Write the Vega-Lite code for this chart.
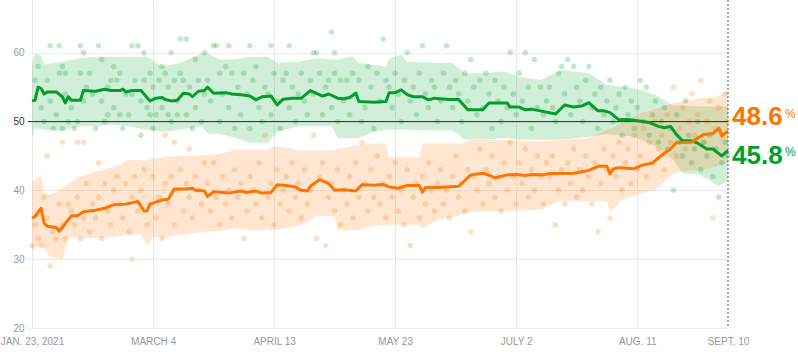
{
"$schema":"https://vega.github.io/schema/vega-lite/v6.json",
"width":700,"height":328,
"autosize":{"type":"none"},
"padding":{"left":28,"top":0,"right":70,"bottom":29},
"background":"white",
"config":{"view":{"stroke":null},"font":"Liberation Sans"},
"datasets":{
"lines":[
{"d":"2021-01-23","s":"a","v":53.0},{"d":"2021-01-24","s":"a","v":53.1},{"d":"2021-01-25","s":"a","v":55.0},{"d":"2021-01-26","s":"a","v":54.8},{"d":"2021-01-27","s":"a","v":54.0},{"d":"2021-01-28","s":"a","v":54.3},{"d":"2021-01-31","s":"a","v":54.3},{"d":"2021-02-02","s":"a","v":53.6},{"d":"2021-02-03","s":"a","v":52.7},{"d":"2021-02-04","s":"a","v":53.6},{"d":"2021-02-05","s":"a","v":53.1},{"d":"2021-02-08","s":"a","v":53.1},{"d":"2021-02-09","s":"a","v":54.5},{"d":"2021-02-13","s":"a","v":54.4},{"d":"2021-02-16","s":"a","v":54.7},{"d":"2021-02-18","s":"a","v":54.5},{"d":"2021-02-21","s":"a","v":54.5},{"d":"2021-02-22","s":"a","v":54.7},{"d":"2021-02-23","s":"a","v":54.3},{"d":"2021-02-25","s":"a","v":54.5},{"d":"2021-02-28","s":"a","v":54.5},{"d":"2021-03-03","s":"a","v":53.0},{"d":"2021-03-05","s":"a","v":53.4},{"d":"2021-03-07","s":"a","v":53.5},{"d":"2021-03-08","s":"a","v":53.2},{"d":"2021-03-10","s":"a","v":53.0},{"d":"2021-03-12","s":"a","v":53.1},{"d":"2021-03-14","s":"a","v":54.1},{"d":"2021-03-16","s":"a","v":54.0},{"d":"2021-03-17","s":"a","v":53.6},{"d":"2021-03-19","s":"a","v":54.4},{"d":"2021-03-21","s":"a","v":54.5},{"d":"2021-03-22","s":"a","v":55.0},{"d":"2021-03-24","s":"a","v":54.1},{"d":"2021-03-28","s":"a","v":54.2},{"d":"2021-03-30","s":"a","v":54.0},{"d":"2021-04-02","s":"a","v":53.9},{"d":"2021-04-05","s":"a","v":53.7},{"d":"2021-04-07","s":"a","v":53.15},{"d":"2021-04-09","s":"a","v":53.6},{"d":"2021-04-12","s":"a","v":53.7},{"d":"2021-04-14","s":"a","v":52.4},{"d":"2021-04-16","s":"a","v":53.25},{"d":"2021-04-19","s":"a","v":53.4},{"d":"2021-04-22","s":"a","v":53.4},{"d":"2021-04-25","s":"a","v":54.5},{"d":"2021-04-27","s":"a","v":54.1},{"d":"2021-04-29","s":"a","v":53.7},{"d":"2021-05-01","s":"a","v":54.0},{"d":"2021-05-04","s":"a","v":53.4},{"d":"2021-05-06","s":"a","v":53.3},{"d":"2021-05-08","s":"a","v":53.5},{"d":"2021-05-10","s":"a","v":54.1},{"d":"2021-05-11","s":"a","v":52.9},{"d":"2021-05-16","s":"a","v":52.8},{"d":"2021-05-20","s":"a","v":52.9},{"d":"2021-05-21","s":"a","v":54.2},{"d":"2021-05-23","s":"a","v":54.2},{"d":"2021-05-25","s":"a","v":54.6},{"d":"2021-05-27","s":"a","v":53.9},{"d":"2021-05-29","s":"a","v":53.6},{"d":"2021-06-01","s":"a","v":53.6},{"d":"2021-06-03","s":"a","v":53.15},{"d":"2021-06-05","s":"a","v":53.4},{"d":"2021-06-10","s":"a","v":53.2},{"d":"2021-06-13","s":"a","v":53.2},{"d":"2021-06-16","s":"a","v":51.7},{"d":"2021-06-21","s":"a","v":51.7},{"d":"2021-06-23","s":"a","v":52.7},{"d":"2021-06-29","s":"a","v":52.7},{"d":"2021-06-30","s":"a","v":52.1},{"d":"2021-07-03","s":"a","v":52.1},{"d":"2021-07-05","s":"a","v":51.7},{"d":"2021-07-07","s":"a","v":51.8},{"d":"2021-07-10","s":"a","v":51.55},{"d":"2021-07-15","s":"a","v":51.1},{"d":"2021-07-18","s":"a","v":52.4},{"d":"2021-07-20","s":"a","v":52.2},{"d":"2021-07-21","s":"a","v":52.1},{"d":"2021-07-24","s":"a","v":52.3},{"d":"2021-07-26","s":"a","v":52.75},{"d":"2021-07-29","s":"a","v":51.55},{"d":"2021-07-31","s":"a","v":51.55},{"d":"2021-08-02","s":"a","v":51.3},{"d":"2021-08-05","s":"a","v":50.25},{"d":"2021-08-08","s":"a","v":50.3},{"d":"2021-08-11","s":"a","v":50.1},{"d":"2021-08-15","s":"a","v":49.85},{"d":"2021-08-18","s":"a","v":49.3},{"d":"2021-08-20","s":"a","v":49.1},{"d":"2021-08-22","s":"a","v":49.3},{"d":"2021-08-24","s":"a","v":48.1},{"d":"2021-08-26","s":"a","v":47.2},{"d":"2021-08-29","s":"a","v":47.2},{"d":"2021-08-31","s":"a","v":46.85},{"d":"2021-09-03","s":"a","v":46.0},{"d":"2021-09-05","s":"a","v":46.0},{"d":"2021-09-08","s":"a","v":45.0},{"d":"2021-09-09","s":"a","v":45.4},{"d":"2021-09-10","s":"a","v":45.8},
{"d":"2021-01-23","s":"o","v":36.0},{"d":"2021-01-24","s":"o","v":36.2},{"d":"2021-01-26","s":"o","v":37.4},{"d":"2021-01-27","s":"o","v":35.25},{"d":"2021-01-28","s":"o","v":34.8},{"d":"2021-01-31","s":"o","v":34.6},{"d":"2021-02-01","s":"o","v":34.05},{"d":"2021-02-02","s":"o","v":34.6},{"d":"2021-02-05","s":"o","v":36.3},{"d":"2021-02-07","s":"o","v":36.3},{"d":"2021-02-09","s":"o","v":36.9},{"d":"2021-02-13","s":"o","v":37.1},{"d":"2021-02-16","s":"o","v":37.4},{"d":"2021-02-19","s":"o","v":37.9},{"d":"2021-02-23","s":"o","v":38.0},{"d":"2021-02-27","s":"o","v":38.4},{"d":"2021-03-01","s":"o","v":37.0},{"d":"2021-03-02","s":"o","v":37.0},{"d":"2021-03-03","s":"o","v":38.0},{"d":"2021-03-07","s":"o","v":38.6},{"d":"2021-03-09","s":"o","v":38.7},{"d":"2021-03-11","s":"o","v":40.2},{"d":"2021-03-15","s":"o","v":40.2},{"d":"2021-03-17","s":"o","v":40.3},{"d":"2021-03-18","s":"o","v":40.0},{"d":"2021-03-21","s":"o","v":39.9},{"d":"2021-03-22","s":"o","v":39.1},{"d":"2021-03-24","s":"o","v":39.8},{"d":"2021-03-27","s":"o","v":39.7},{"d":"2021-03-29","s":"o","v":39.6},{"d":"2021-04-02","s":"o","v":39.9},{"d":"2021-04-04","s":"o","v":39.7},{"d":"2021-04-07","s":"o","v":39.9},{"d":"2021-04-09","s":"o","v":39.6},{"d":"2021-04-12","s":"o","v":39.7},{"d":"2021-04-14","s":"o","v":40.8},{"d":"2021-04-17","s":"o","v":40.7},{"d":"2021-04-20","s":"o","v":40.5},{"d":"2021-04-22","s":"o","v":40.0},{"d":"2021-04-24","s":"o","v":39.9},{"d":"2021-04-25","s":"o","v":40.6},{"d":"2021-04-28","s":"o","v":41.55},{"d":"2021-05-01","s":"o","v":41.0},{"d":"2021-05-03","s":"o","v":40.0},{"d":"2021-05-06","s":"o","v":40.1},{"d":"2021-05-10","s":"o","v":39.9},{"d":"2021-05-12","s":"o","v":40.8},{"d":"2021-05-16","s":"o","v":40.75},{"d":"2021-05-19","s":"o","v":40.85},{"d":"2021-05-21","s":"o","v":40.5},{"d":"2021-05-24","s":"o","v":40.3},{"d":"2021-05-27","s":"o","v":40.7},{"d":"2021-05-31","s":"o","v":40.7},{"d":"2021-06-01","s":"o","v":39.75},{"d":"2021-06-02","s":"o","v":40.4},{"d":"2021-06-06","s":"o","v":40.4},{"d":"2021-06-09","s":"o","v":40.5},{"d":"2021-06-13","s":"o","v":40.6},{"d":"2021-06-17","s":"o","v":42.25},{"d":"2021-06-21","s":"o","v":42.5},{"d":"2021-06-23","s":"o","v":42.2},{"d":"2021-06-25","s":"o","v":41.8},{"d":"2021-06-29","s":"o","v":42.25},{"d":"2021-07-02","s":"o","v":42.3},{"d":"2021-07-05","s":"o","v":42.15},{"d":"2021-07-07","s":"o","v":42.3},{"d":"2021-07-11","s":"o","v":42.25},{"d":"2021-07-13","s":"o","v":42.45},{"d":"2021-07-21","s":"o","v":42.5},{"d":"2021-07-26","s":"o","v":42.9},{"d":"2021-07-29","s":"o","v":43.5},{"d":"2021-08-01","s":"o","v":43.5},{"d":"2021-08-02","s":"o","v":42.4},{"d":"2021-08-03","s":"o","v":43.1},{"d":"2021-08-05","s":"o","v":43.3},{"d":"2021-08-10","s":"o","v":43.15},{"d":"2021-08-13","s":"o","v":43.7},{"d":"2021-08-16","s":"o","v":43.95},{"d":"2021-08-18","s":"o","v":44.7},{"d":"2021-08-20","s":"o","v":45.4},{"d":"2021-08-22","s":"o","v":46.0},{"d":"2021-08-24","s":"o","v":46.95},{"d":"2021-08-29","s":"o","v":47.0},{"d":"2021-08-31","s":"o","v":47.6},{"d":"2021-09-02","s":"o","v":48.1},{"d":"2021-09-05","s":"o","v":48.25},{"d":"2021-09-07","s":"o","v":49.05},{"d":"2021-09-08","s":"o","v":47.9},{"d":"2021-09-09","s":"o","v":48.3},{"d":"2021-09-10","s":"o","v":48.6}
],
"bands":[
{"d":"2021-01-23","s":"a","lo":47.8,"hi":58.3},{"d":"2021-01-24","s":"a","lo":49.0,"hi":59.9},{"d":"2021-01-26","s":"a","lo":48.9,"hi":59.6},{"d":"2021-01-27","s":"a","lo":48.8,"hi":58.3},{"d":"2021-02-02","s":"a","lo":48.7,"hi":58.7},{"d":"2021-02-08","s":"a","lo":49.3,"hi":59.2},{"d":"2021-02-14","s":"a","lo":49.3,"hi":59.4},{"d":"2021-02-19","s":"a","lo":49.5,"hi":59.4},{"d":"2021-02-24","s":"a","lo":49.3,"hi":59.4},{"d":"2021-03-02","s":"a","lo":48.8,"hi":59.4},{"d":"2021-03-07","s":"a","lo":48.5,"hi":58.0},{"d":"2021-03-13","s":"a","lo":48.8,"hi":58.5},{"d":"2021-03-20","s":"a","lo":49.3,"hi":59.9},{"d":"2021-03-22","s":"a","lo":48.3,"hi":59.9},{"d":"2021-03-26","s":"a","lo":48.2,"hi":59.0},{"d":"2021-03-30","s":"a","lo":47.8,"hi":59.0},{"d":"2021-04-05","s":"a","lo":46.9,"hi":59.4},{"d":"2021-04-11","s":"a","lo":46.9,"hi":59.4},{"d":"2021-04-14","s":"a","lo":48.5,"hi":58.5},{"d":"2021-04-21","s":"a","lo":49.3,"hi":58.7},{"d":"2021-04-27","s":"a","lo":49.3,"hi":59.2},{"d":"2021-05-02","s":"a","lo":49.3,"hi":59.0},{"d":"2021-05-04","s":"a","lo":47.6,"hi":59.0},{"d":"2021-05-09","s":"a","lo":47.6,"hi":59.5},{"d":"2021-05-11","s":"a","lo":47.6,"hi":58.5},{"d":"2021-05-16","s":"a","lo":48.5,"hi":58.2},{"d":"2021-05-20","s":"a","lo":48.8,"hi":58.0},{"d":"2021-05-21","s":"a","lo":48.8,"hi":59.2},{"d":"2021-05-25","s":"a","lo":48.8,"hi":59.7},{"d":"2021-05-27","s":"a","lo":48.8,"hi":58.7},{"d":"2021-06-06","s":"a","lo":48.7,"hi":58.5},{"d":"2021-06-11","s":"a","lo":48.7,"hi":58.5},{"d":"2021-06-15","s":"a","lo":47.4,"hi":57.0},{"d":"2021-06-22","s":"a","lo":47.4,"hi":57.0},{"d":"2021-06-28","s":"a","lo":47.6,"hi":57.3},{"d":"2021-07-03","s":"a","lo":47.4,"hi":56.5},{"d":"2021-07-10","s":"a","lo":47.3,"hi":56.05},{"d":"2021-07-17","s":"a","lo":47.4,"hi":57.5},{"d":"2021-07-26","s":"a","lo":47.8,"hi":57.0},{"d":"2021-08-01","s":"a","lo":48.2,"hi":55.3},{"d":"2021-08-10","s":"a","lo":47.8,"hi":54.85},{"d":"2021-08-17","s":"a","lo":46.4,"hi":53.9},{"d":"2021-08-23","s":"a","lo":44.4,"hi":52.3},{"d":"2021-08-26","s":"a","lo":42.5,"hi":52.3},{"d":"2021-09-01","s":"a","lo":42.2,"hi":52.2},{"d":"2021-09-07","s":"a","lo":40.6,"hi":52.2},{"d":"2021-09-10","s":"a","lo":41.5,"hi":52.2},
{"d":"2021-01-23","s":"o","lo":31.0,"hi":41.3},{"d":"2021-01-25","s":"o","lo":32.0,"hi":41.8},{"d":"2021-01-26","s":"o","lo":32.0,"hi":42.3},{"d":"2021-01-27","s":"o","lo":31.5,"hi":39.6},{"d":"2021-01-29","s":"o","lo":30.3,"hi":39.3},{"d":"2021-02-02","s":"o","lo":29.9,"hi":40.3},{"d":"2021-02-04","s":"o","lo":33.2,"hi":41.0},{"d":"2021-02-08","s":"o","lo":33.1,"hi":42.0},{"d":"2021-02-13","s":"o","lo":33.1,"hi":42.7},{"d":"2021-02-19","s":"o","lo":33.2,"hi":43.4},{"d":"2021-02-24","s":"o","lo":33.6,"hi":44.4},{"d":"2021-02-28","s":"o","lo":33.5,"hi":44.4},{"d":"2021-03-02","s":"o","lo":31.9,"hi":44.4},{"d":"2021-03-04","s":"o","lo":33.2,"hi":44.6},{"d":"2021-03-08","s":"o","lo":33.2,"hi":44.9},{"d":"2021-03-14","s":"o","lo":33.6,"hi":45.0},{"d":"2021-03-21","s":"o","lo":34.0,"hi":45.1},{"d":"2021-03-26","s":"o","lo":34.1,"hi":45.3},{"d":"2021-03-31","s":"o","lo":34.5,"hi":45.9},{"d":"2021-04-05","s":"o","lo":34.2,"hi":45.9},{"d":"2021-04-11","s":"o","lo":34.2,"hi":45.9},{"d":"2021-04-13","s":"o","lo":34.2,"hi":46.4},{"d":"2021-04-17","s":"o","lo":34.5,"hi":46.2},{"d":"2021-04-22","s":"o","lo":35.0,"hi":45.8},{"d":"2021-04-27","s":"o","lo":36.2,"hi":45.8},{"d":"2021-05-03","s":"o","lo":36.2,"hi":45.8},{"d":"2021-05-04","s":"o","lo":34.2,"hi":46.0},{"d":"2021-05-11","s":"o","lo":34.2,"hi":46.6},{"d":"2021-05-15","s":"o","lo":34.8,"hi":46.8},{"d":"2021-05-20","s":"o","lo":35.0,"hi":46.8},{"d":"2021-05-21","s":"o","lo":35.0,"hi":44.8},{"d":"2021-05-31","s":"o","lo":35.0,"hi":44.8},{"d":"2021-06-01","s":"o","lo":34.5,"hi":46.8},{"d":"2021-06-06","s":"o","lo":35.7,"hi":46.8},{"d":"2021-06-14","s":"o","lo":36.5,"hi":46.8},{"d":"2021-06-17","s":"o","lo":36.9,"hi":47.3},{"d":"2021-06-28","s":"o","lo":37.0,"hi":47.3},{"d":"2021-07-05","s":"o","lo":37.1,"hi":47.2},{"d":"2021-07-10","s":"o","lo":37.2,"hi":47.1},{"d":"2021-07-16","s":"o","lo":38.4,"hi":47.3},{"d":"2021-07-26","s":"o","lo":38.4,"hi":47.6},{"d":"2021-08-01","s":"o","lo":38.4,"hi":48.8},{"d":"2021-08-02","s":"o","lo":36.9,"hi":48.9},{"d":"2021-08-06","s":"o","lo":38.6,"hi":49.8},{"d":"2021-08-12","s":"o","lo":39.5,"hi":51.2},{"d":"2021-08-17","s":"o","lo":40.1,"hi":51.8},{"d":"2021-08-23","s":"o","lo":42.5,"hi":52.7},{"d":"2021-08-28","s":"o","lo":42.9,"hi":53.1},{"d":"2021-09-01","s":"o","lo":42.9,"hi":53.4},{"d":"2021-09-06","s":"o","lo":43.5,"hi":53.6},{"d":"2021-09-10","s":"o","lo":44.0,"hi":54.35}
],
"dots":[
{"d":"2021-01-24","s":"a","v":56},{"d":"2021-01-25","s":"a","v":58},{"d":"2021-01-26","s":"a","v":52},{"d":"2021-01-27","s":"a","v":50},{"d":"2021-01-28","s":"a","v":56},{"d":"2021-01-29","s":"a","v":61},{"d":"2021-01-29","s":"a","v":53},{"d":"2021-01-30","s":"a","v":49},{"d":"2021-01-31","s":"a","v":51},{"d":"2021-02-01","s":"a","v":61},{"d":"2021-02-01","s":"a","v":57},{"d":"2021-02-02","s":"a","v":58},{"d":"2021-02-02","s":"a","v":49},{"d":"2021-02-03","s":"a","v":57},{"d":"2021-02-03","s":"a","v":54},{"d":"2021-02-04","s":"a","v":50},{"d":"2021-02-05","s":"a","v":52},{"d":"2021-02-06","s":"a","v":49},{"d":"2021-02-07","s":"a","v":50},{"d":"2021-02-08","s":"a","v":61},{"d":"2021-02-08","s":"a","v":57},{"d":"2021-02-09","s":"a","v":60},{"d":"2021-02-09","s":"a","v":53},{"d":"2021-02-10","s":"a","v":55},{"d":"2021-02-11","s":"a","v":57},{"d":"2021-02-12","s":"a","v":54},{"d":"2021-02-13","s":"a","v":49},{"d":"2021-02-14","s":"a","v":61},{"d":"2021-02-15","s":"a","v":59},{"d":"2021-02-15","s":"a","v":53},{"d":"2021-02-16","s":"a","v":50},{"d":"2021-02-17","s":"a","v":55},{"d":"2021-02-17","s":"a","v":51},{"d":"2021-02-18","s":"a","v":56},{"d":"2021-02-19","s":"a","v":52},{"d":"2021-02-19","s":"a","v":58},{"d":"2021-02-20","s":"a","v":56},{"d":"2021-02-21","s":"a","v":57},{"d":"2021-02-21","s":"a","v":51},{"d":"2021-02-22","s":"a","v":49},{"d":"2021-02-23","s":"a","v":54},{"d":"2021-02-24","s":"a","v":51},{"d":"2021-02-25","s":"a","v":61},{"d":"2021-02-25","s":"a","v":54},{"d":"2021-02-26","s":"a","v":56},{"d":"2021-02-27","s":"a","v":61},{"d":"2021-02-28","s":"a","v":53},{"d":"2021-02-28","s":"a","v":48},{"d":"2021-03-01","s":"a","v":60},{"d":"2021-03-01","s":"a","v":56},{"d":"2021-03-02","s":"a","v":52},{"d":"2021-03-03","s":"a","v":57},{"d":"2021-03-03","s":"a","v":51},{"d":"2021-03-04","s":"a","v":49},{"d":"2021-03-04","s":"a","v":55},{"d":"2021-03-05","s":"a","v":51},{"d":"2021-03-06","s":"a","v":56},{"d":"2021-03-07","s":"a","v":58},{"d":"2021-03-07","s":"a","v":52},{"d":"2021-03-08","s":"a","v":57},{"d":"2021-03-09","s":"a","v":55},{"d":"2021-03-09","s":"a","v":51},{"d":"2021-03-10","s":"a","v":60},{"d":"2021-03-10","s":"a","v":50},{"d":"2021-03-11","s":"a","v":56},{"d":"2021-03-12","s":"a","v":53},{"d":"2021-03-12","s":"a","v":51},{"d":"2021-03-13","s":"a","v":62},{"d":"2021-03-13","s":"a","v":57},{"d":"2021-03-14","s":"a","v":56},{"d":"2021-03-15","s":"a","v":62},{"d":"2021-03-15","s":"a","v":51},{"d":"2021-03-16","s":"a","v":55},{"d":"2021-03-17","s":"a","v":49},{"d":"2021-03-18","s":"a","v":59},{"d":"2021-03-18","s":"a","v":52},{"d":"2021-03-19","s":"a","v":56},{"d":"2021-03-20","s":"a","v":50},{"d":"2021-03-21","s":"a","v":60},{"d":"2021-03-21","s":"a","v":54},{"d":"2021-03-22","s":"a","v":56},{"d":"2021-03-23","s":"a","v":53},{"d":"2021-03-24","s":"a","v":61},{"d":"2021-03-25","s":"a","v":61},{"d":"2021-03-26","s":"a","v":57},{"d":"2021-03-26","s":"a","v":50},{"d":"2021-03-27","s":"a","v":54},{"d":"2021-03-28","s":"a","v":58},{"d":"2021-03-29","s":"a","v":61},{"d":"2021-03-29","s":"a","v":52},{"d":"2021-03-30","s":"a","v":57},{"d":"2021-03-31","s":"a","v":49},{"d":"2021-04-01","s":"a","v":55},{"d":"2021-04-02","s":"a","v":51},{"d":"2021-04-03","s":"a","v":57},{"d":"2021-04-04","s":"a","v":54},{"d":"2021-04-05","s":"a","v":61},{"d":"2021-04-05","s":"a","v":49},{"d":"2021-04-06","s":"a","v":56},{"d":"2021-04-07","s":"a","v":58},{"d":"2021-04-08","s":"a","v":52},{"d":"2021-04-09","s":"a","v":50},{"d":"2021-04-10","s":"a","v":55},{"d":"2021-04-11","s":"a","v":54},{"d":"2021-04-12","s":"a","v":61},{"d":"2021-04-12","s":"a","v":51},{"d":"2021-04-13","s":"a","v":57},{"d":"2021-04-14","s":"a","v":53},{"d":"2021-04-15","s":"a","v":49},{"d":"2021-04-16","s":"a","v":56},{"d":"2021-04-17","s":"a","v":57},{"d":"2021-04-18","s":"a","v":61},{"d":"2021-04-18","s":"a","v":52},{"d":"2021-04-19","s":"a","v":55},{"d":"2021-04-20","s":"a","v":50},{"d":"2021-04-21","s":"a","v":54},{"d":"2021-04-22","s":"a","v":57},{"d":"2021-04-23","s":"a","v":53},{"d":"2021-04-24","s":"a","v":51},{"d":"2021-04-25","s":"a","v":56},{"d":"2021-04-26","s":"a","v":60},{"d":"2021-04-26","s":"a","v":54},{"d":"2021-04-27","s":"a","v":60},{"d":"2021-04-28","s":"a","v":57},{"d":"2021-04-29","s":"a","v":51},{"d":"2021-04-30","s":"a","v":55},{"d":"2021-05-01","s":"a","v":56},{"d":"2021-05-02","s":"a","v":63},{"d":"2021-05-02","s":"a","v":52},{"d":"2021-05-03","s":"a","v":60},{"d":"2021-05-03","s":"a","v":57},{"d":"2021-05-04","s":"a","v":50},{"d":"2021-05-05","s":"a","v":56},{"d":"2021-05-06","s":"a","v":53},{"d":"2021-05-07","s":"a","v":56},{"d":"2021-05-08","s":"a","v":51},{"d":"2021-05-09","s":"a","v":57},{"d":"2021-05-10","s":"a","v":54},{"d":"2021-05-11","s":"a","v":56},{"d":"2021-05-12","s":"a","v":50},{"d":"2021-05-13","s":"a","v":52},{"d":"2021-05-14","s":"a","v":58},{"d":"2021-05-15","s":"a","v":55},{"d":"2021-05-16","s":"a","v":49},{"d":"2021-05-17","s":"a","v":57},{"d":"2021-05-18","s":"a","v":53},{"d":"2021-05-19","s":"a","v":62},{"d":"2021-05-20","s":"a","v":56},{"d":"2021-05-21","s":"a","v":55},{"d":"2021-05-22","s":"a","v":52},{"d":"2021-05-23","s":"a","v":57},{"d":"2021-05-24","s":"a","v":54},{"d":"2021-05-25","s":"a","v":50},{"d":"2021-05-26","s":"a","v":56},{"d":"2021-05-27","s":"a","v":60},{"d":"2021-05-28","s":"a","v":53},{"d":"2021-05-29","s":"a","v":55},{"d":"2021-05-30","s":"a","v":51},{"d":"2021-05-31","s":"a","v":57},{"d":"2021-06-01","s":"a","v":61},{"d":"2021-06-02","s":"a","v":54},{"d":"2021-06-03","s":"a","v":52},{"d":"2021-06-04","s":"a","v":56},{"d":"2021-06-05","s":"a","v":55},{"d":"2021-06-06","s":"a","v":50},{"d":"2021-06-07","s":"a","v":53},{"d":"2021-06-08","s":"a","v":57},{"d":"2021-06-09","s":"a","v":61},{"d":"2021-06-10","s":"a","v":55},{"d":"2021-06-11","s":"a","v":52},{"d":"2021-06-12","s":"a","v":56},{"d":"2021-06-13","s":"a","v":54},{"d":"2021-06-14","s":"a","v":50},{"d":"2021-06-15","s":"a","v":57},{"d":"2021-06-16","s":"a","v":53},{"d":"2021-06-17","s":"a","v":59},{"d":"2021-06-18","s":"a","v":55},{"d":"2021-06-19","s":"a","v":51},{"d":"2021-06-20","s":"a","v":56},{"d":"2021-06-21","s":"a","v":52},{"d":"2021-06-22","s":"a","v":57},{"d":"2021-06-23","s":"a","v":54},{"d":"2021-06-24","s":"a","v":49},{"d":"2021-06-25","s":"a","v":56},{"d":"2021-06-26","s":"a","v":53},{"d":"2021-06-27","s":"a","v":50},{"d":"2021-06-28","s":"a","v":55},{"d":"2021-06-29","s":"a","v":52},{"d":"2021-06-30","s":"a","v":60},{"d":"2021-07-01","s":"a","v":54},{"d":"2021-07-02","s":"a","v":51},{"d":"2021-07-03","s":"a","v":57},{"d":"2021-07-04","s":"a","v":53},{"d":"2021-07-05","s":"a","v":60},{"d":"2021-07-06","s":"a","v":55},{"d":"2021-07-07","s":"a","v":49},{"d":"2021-07-08","s":"a","v":59},{"d":"2021-07-09","s":"a","v":52},{"d":"2021-07-10","s":"a","v":55},{"d":"2021-07-11","s":"a","v":51},{"d":"2021-07-12","s":"a","v":53},{"d":"2021-07-13","s":"a","v":55},{"d":"2021-07-14","s":"a","v":52},{"d":"2021-07-15","s":"a","v":50},{"d":"2021-07-16","s":"a","v":57},{"d":"2021-07-17","s":"a","v":58},{"d":"2021-07-18","s":"a","v":54},{"d":"2021-07-19","s":"a","v":59},{"d":"2021-07-20","s":"a","v":51},{"d":"2021-07-21","s":"a","v":58},{"d":"2021-07-22","s":"a","v":55},{"d":"2021-07-23","s":"a","v":53},{"d":"2021-07-24","s":"a","v":50},{"d":"2021-07-25","s":"a","v":56},{"d":"2021-07-26","s":"a","v":58},{"d":"2021-07-27","s":"a","v":52},{"d":"2021-07-28","s":"a","v":54},{"d":"2021-07-29","s":"a","v":49},{"d":"2021-07-30","s":"a","v":55},{"d":"2021-07-31","s":"a","v":51},{"d":"2021-08-01","s":"a","v":53},{"d":"2021-08-02","s":"a","v":56},{"d":"2021-08-03","s":"a","v":50},{"d":"2021-08-04","s":"a","v":52},{"d":"2021-08-05","s":"a","v":54},{"d":"2021-08-06","s":"a","v":48},{"d":"2021-08-07","s":"a","v":55},{"d":"2021-08-08","s":"a","v":51},{"d":"2021-08-09","s":"a","v":53},{"d":"2021-08-10","s":"a","v":49},{"d":"2021-08-11","s":"a","v":52},{"d":"2021-08-12","s":"a","v":56},{"d":"2021-08-13","s":"a","v":50},{"d":"2021-08-14","s":"a","v":55},{"d":"2021-08-15","s":"a","v":48},{"d":"2021-08-16","s":"a","v":51},{"d":"2021-08-17","s":"a","v":53},{"d":"2021-08-18","s":"a","v":47},{"d":"2021-08-19","s":"a","v":50},{"d":"2021-08-20","s":"a","v":52},{"d":"2021-08-21","s":"a","v":46},{"d":"2021-08-22","s":"a","v":49},{"d":"2021-08-23","s":"a","v":40},{"d":"2021-08-24","s":"a","v":51},{"d":"2021-08-25","s":"a","v":47},{"d":"2021-08-26","s":"a","v":45},{"d":"2021-08-27","s":"a","v":53},{"d":"2021-08-28","s":"a","v":48},{"d":"2021-08-29","s":"a","v":44},{"d":"2021-08-30","s":"a","v":46},{"d":"2021-08-31","s":"a","v":50},{"d":"2021-09-01","s":"a","v":43},{"d":"2021-09-02","s":"a","v":47},{"d":"2021-09-03","s":"a","v":45},{"d":"2021-09-04","s":"a","v":48},{"d":"2021-09-05","s":"a","v":42},{"d":"2021-09-06","s":"a","v":46},{"d":"2021-09-07","s":"a","v":39},{"d":"2021-09-08","s":"a","v":44},{"d":"2021-09-09","s":"a","v":47},{"d":"2021-09-10","s":"a","v":45},
{"d":"2021-01-23","s":"o","v":32},{"d":"2021-01-24","s":"o","v":35},{"d":"2021-01-25","s":"o","v":33},{"d":"2021-01-26","s":"o","v":32},{"d":"2021-01-27","s":"o","v":39},{"d":"2021-01-28","s":"o","v":45},{"d":"2021-01-28","s":"o","v":36},{"d":"2021-01-29","s":"o","v":29},{"d":"2021-01-30","s":"o","v":34},{"d":"2021-01-31","s":"o","v":33},{"d":"2021-02-01","s":"o","v":38},{"d":"2021-02-02","s":"o","v":47},{"d":"2021-02-02","s":"o","v":35},{"d":"2021-02-03","s":"o","v":33},{"d":"2021-02-04","s":"o","v":38},{"d":"2021-02-05","s":"o","v":37},{"d":"2021-02-06","s":"o","v":35},{"d":"2021-02-07","s":"o","v":47},{"d":"2021-02-07","s":"o","v":39},{"d":"2021-02-08","s":"o","v":33},{"d":"2021-02-09","s":"o","v":47},{"d":"2021-02-09","s":"o","v":36},{"d":"2021-02-10","s":"o","v":41},{"d":"2021-02-11","s":"o","v":34},{"d":"2021-02-12","s":"o","v":38},{"d":"2021-02-13","s":"o","v":36},{"d":"2021-02-14","s":"o","v":44},{"d":"2021-02-14","s":"o","v":39},{"d":"2021-02-15","s":"o","v":33},{"d":"2021-02-16","s":"o","v":41},{"d":"2021-02-17","s":"o","v":37},{"d":"2021-02-18","s":"o","v":35},{"d":"2021-02-19","s":"o","v":40},{"d":"2021-02-20","s":"o","v":42},{"d":"2021-02-21","s":"o","v":38},{"d":"2021-02-22","s":"o","v":36},{"d":"2021-02-23","s":"o","v":41},{"d":"2021-02-24","s":"o","v":34},{"d":"2021-02-25","s":"o","v":30},{"d":"2021-02-25","s":"o","v":39},{"d":"2021-02-26","s":"o","v":42},{"d":"2021-02-27","s":"o","v":37},{"d":"2021-02-28","s":"o","v":40},{"d":"2021-03-01","s":"o","v":43},{"d":"2021-03-02","s":"o","v":35},{"d":"2021-03-03","s":"o","v":38},{"d":"2021-03-04","s":"o","v":42},{"d":"2021-03-05","s":"o","v":36},{"d":"2021-03-06","s":"o","v":39},{"d":"2021-03-07","s":"o","v":33},{"d":"2021-03-08","s":"o","v":48},{"d":"2021-03-08","s":"o","v":41},{"d":"2021-03-09","s":"o","v":38},{"d":"2021-03-10","s":"o","v":42},{"d":"2021-03-11","s":"o","v":47},{"d":"2021-03-11","s":"o","v":35},{"d":"2021-03-12","s":"o","v":40},{"d":"2021-03-13","s":"o","v":43},{"d":"2021-03-14","s":"o","v":37},{"d":"2021-03-15","s":"o","v":41},{"d":"2021-03-16","s":"o","v":46},{"d":"2021-03-16","s":"o","v":39},{"d":"2021-03-17","s":"o","v":36},{"d":"2021-03-18","s":"o","v":42},{"d":"2021-03-19","s":"o","v":40},{"d":"2021-03-20","s":"o","v":38},{"d":"2021-03-21","s":"o","v":44},{"d":"2021-03-22","s":"o","v":41},{"d":"2021-03-23","s":"o","v":37},{"d":"2021-03-24","s":"o","v":44},{"d":"2021-03-25","s":"o","v":39},{"d":"2021-03-26","s":"o","v":35},{"d":"2021-03-27","s":"o","v":42},{"d":"2021-03-28","s":"o","v":38},{"d":"2021-03-29","s":"o","v":40},{"d":"2021-03-30","s":"o","v":36},{"d":"2021-03-31","s":"o","v":43},{"d":"2021-04-01","s":"o","v":39},{"d":"2021-04-02","s":"o","v":41},{"d":"2021-04-03","s":"o","v":33},{"d":"2021-04-04","s":"o","v":37},{"d":"2021-04-05","s":"o","v":42},{"d":"2021-04-06","s":"o","v":40},{"d":"2021-04-07","s":"o","v":38},{"d":"2021-04-08","s":"o","v":44},{"d":"2021-04-09","s":"o","v":36},{"d":"2021-04-10","s":"o","v":48},{"d":"2021-04-11","s":"o","v":39},{"d":"2021-04-12","s":"o","v":41},{"d":"2021-04-13","s":"o","v":35},{"d":"2021-04-14","s":"o","v":43},{"d":"2021-04-15","s":"o","v":38},{"d":"2021-04-16","s":"o","v":40},{"d":"2021-04-17","s":"o","v":42},{"d":"2021-04-18","s":"o","v":37},{"d":"2021-04-19","s":"o","v":44},{"d":"2021-04-20","s":"o","v":39},{"d":"2021-04-21","s":"o","v":41},{"d":"2021-04-22","s":"o","v":36},{"d":"2021-04-23","s":"o","v":43},{"d":"2021-04-24","s":"o","v":38},{"d":"2021-04-25","s":"o","v":40},{"d":"2021-04-26","s":"o","v":48},{"d":"2021-04-27","s":"o","v":33},{"d":"2021-04-28","s":"o","v":42},{"d":"2021-04-29","s":"o","v":44},{"d":"2021-04-30","s":"o","v":32},{"d":"2021-05-01","s":"o","v":39},{"d":"2021-05-02","s":"o","v":41},{"d":"2021-05-03","s":"o","v":37},{"d":"2021-05-04","s":"o","v":43},{"d":"2021-05-05","s":"o","v":35},{"d":"2021-05-06","s":"o","v":40},{"d":"2021-05-07","s":"o","v":38},{"d":"2021-05-08","s":"o","v":42},{"d":"2021-05-09","s":"o","v":36},{"d":"2021-05-10","s":"o","v":44},{"d":"2021-05-11","s":"o","v":39},{"d":"2021-05-12","s":"o","v":47},{"d":"2021-05-13","s":"o","v":41},{"d":"2021-05-14","s":"o","v":37},{"d":"2021-05-15","s":"o","v":43},{"d":"2021-05-16","s":"o","v":39},{"d":"2021-05-17","s":"o","v":45},{"d":"2021-05-18","s":"o","v":38},{"d":"2021-05-19","s":"o","v":41},{"d":"2021-05-20","s":"o","v":36},{"d":"2021-05-21","s":"o","v":42},{"d":"2021-05-22","s":"o","v":39},{"d":"2021-05-23","s":"o","v":44},{"d":"2021-05-24","s":"o","v":37},{"d":"2021-05-25","s":"o","v":40},{"d":"2021-05-26","s":"o","v":35},{"d":"2021-05-27","s":"o","v":43},{"d":"2021-05-28","s":"o","v":32},{"d":"2021-05-29","s":"o","v":39},{"d":"2021-05-30","s":"o","v":41},{"d":"2021-05-31","s":"o","v":36},{"d":"2021-06-01","s":"o","v":42},{"d":"2021-06-02","s":"o","v":38},{"d":"2021-06-03","s":"o","v":44},{"d":"2021-06-04","s":"o","v":40},{"d":"2021-06-05","s":"o","v":37},{"d":"2021-06-06","s":"o","v":41},{"d":"2021-06-07","s":"o","v":43},{"d":"2021-06-08","s":"o","v":38},{"d":"2021-06-09","s":"o","v":40},{"d":"2021-06-10","s":"o","v":36},{"d":"2021-06-11","s":"o","v":42},{"d":"2021-06-12","s":"o","v":45},{"d":"2021-06-13","s":"o","v":39},{"d":"2021-06-14","s":"o","v":41},{"d":"2021-06-15","s":"o","v":37},{"d":"2021-06-16","s":"o","v":43},{"d":"2021-06-17","s":"o","v":34},{"d":"2021-06-18","s":"o","v":42},{"d":"2021-06-19","s":"o","v":40},{"d":"2021-06-20","s":"o","v":46},{"d":"2021-06-21","s":"o","v":38},{"d":"2021-06-22","s":"o","v":43},{"d":"2021-06-23","s":"o","v":41},{"d":"2021-06-24","s":"o","v":45},{"d":"2021-06-25","s":"o","v":39},{"d":"2021-06-26","s":"o","v":42},{"d":"2021-06-27","s":"o","v":37},{"d":"2021-06-28","s":"o","v":44},{"d":"2021-06-29","s":"o","v":40},{"d":"2021-06-30","s":"o","v":47},{"d":"2021-07-01","s":"o","v":42},{"d":"2021-07-02","s":"o","v":38},{"d":"2021-07-03","s":"o","v":44},{"d":"2021-07-04","s":"o","v":41},{"d":"2021-07-05","s":"o","v":46},{"d":"2021-07-06","s":"o","v":39},{"d":"2021-07-07","s":"o","v":43},{"d":"2021-07-08","s":"o","v":40},{"d":"2021-07-09","s":"o","v":45},{"d":"2021-07-10","s":"o","v":42},{"d":"2021-07-11","s":"o","v":38},{"d":"2021-07-12","s":"o","v":44},{"d":"2021-07-13","s":"o","v":42},{"d":"2021-07-14","s":"o","v":45},{"d":"2021-07-15","s":"o","v":35},{"d":"2021-07-16","s":"o","v":40},{"d":"2021-07-17","s":"o","v":43},{"d":"2021-07-18","s":"o","v":38},{"d":"2021-07-19","s":"o","v":44},{"d":"2021-07-20","s":"o","v":41},{"d":"2021-07-21","s":"o","v":46},{"d":"2021-07-22","s":"o","v":39},{"d":"2021-07-23","s":"o","v":43},{"d":"2021-07-24","s":"o","v":40},{"d":"2021-07-25","s":"o","v":45},{"d":"2021-07-26","s":"o","v":42},{"d":"2021-07-27","s":"o","v":38},{"d":"2021-07-28","s":"o","v":44},{"d":"2021-07-29","s":"o","v":34},{"d":"2021-07-30","s":"o","v":41},{"d":"2021-07-31","s":"o","v":46},{"d":"2021-08-01","s":"o","v":43},{"d":"2021-08-02","s":"o","v":36},{"d":"2021-08-03","s":"o","v":45},{"d":"2021-08-04","s":"o","v":42},{"d":"2021-08-05","s":"o","v":47},{"d":"2021-08-06","s":"o","v":40},{"d":"2021-08-07","s":"o","v":44},{"d":"2021-08-08","s":"o","v":46},{"d":"2021-08-09","s":"o","v":41},{"d":"2021-08-10","s":"o","v":48},{"d":"2021-08-11","s":"o","v":43},{"d":"2021-08-12","s":"o","v":45},{"d":"2021-08-13","s":"o","v":49},{"d":"2021-08-14","s":"o","v":42},{"d":"2021-08-15","s":"o","v":47},{"d":"2021-08-16","s":"o","v":44},{"d":"2021-08-17","s":"o","v":50},{"d":"2021-08-18","s":"o","v":46},{"d":"2021-08-19","s":"o","v":48},{"d":"2021-08-20","s":"o","v":43},{"d":"2021-08-21","s":"o","v":51},{"d":"2021-08-22","s":"o","v":47},{"d":"2021-08-23","s":"o","v":55},{"d":"2021-08-24","s":"o","v":45},{"d":"2021-08-25","s":"o","v":49},{"d":"2021-08-26","s":"o","v":52},{"d":"2021-08-27","s":"o","v":46},{"d":"2021-08-28","s":"o","v":50},{"d":"2021-08-29","s":"o","v":54},{"d":"2021-08-30","s":"o","v":48},{"d":"2021-08-31","s":"o","v":51},{"d":"2021-09-01","s":"o","v":56},{"d":"2021-09-02","s":"o","v":47},{"d":"2021-09-03","s":"o","v":50},{"d":"2021-09-04","s":"o","v":53},{"d":"2021-09-05","s":"o","v":36},{"d":"2021-09-06","s":"o","v":49},{"d":"2021-09-07","s":"o","v":52},{"d":"2021-09-08","s":"o","v":48},{"d":"2021-09-09","s":"o","v":54},{"d":"2021-09-10","s":"o","v":50}
],
"labels":[
{"d":"2021-09-10","s":"o","v":48.6,"t":"48.6"},
{"d":"2021-09-10","s":"a","v":45.8,"t":"45.8"}
]
},
"layer":[
{"data":{"name":"bands"},
 "mark":{"type":"area","opacity":0.18},
 "encoding":{
  "x":{"field":"d","type":"temporal","title":null,
   "scale":{"type":"utc","domain":[{"year":2021,"month":1,"date":21,"hours":16,"utc":true},{"year":2021,"month":9,"date":10,"utc":true}]},
   "axis":{"values":[{"year":2021,"month":1,"date":23,"utc":true},{"year":2021,"month":3,"date":4,"utc":true},{"year":2021,"month":4,"date":13,"utc":true},{"year":2021,"month":5,"date":23,"utc":true},{"year":2021,"month":7,"date":2,"utc":true},{"year":2021,"month":8,"date":11,"utc":true},{"year":2021,"month":9,"date":10,"utc":true}],
    "labelExpr":"utcmonth(datum.value)==0 ? 'JAN. 23, 2021' : utcmonth(datum.value)==2 ? 'MARCH 4' : utcmonth(datum.value)==3 ? 'APRIL 13' : utcmonth(datum.value)==4 ? 'MAY 23' : utcmonth(datum.value)==6 ? 'JULY 2' : utcmonth(datum.value)==7 ? 'AUG. 11' : 'SEPT. 10'",
    "labelFont":"Liberation Sans","labelFontSize":10,"labelColor":"#999999","labelPadding":8,"labelOverlap":false,"labelFlush":false,"labelBound":false,
    "domain":false,"ticks":false,"grid":true,"gridColor":"#ebebeb",
    "gridOpacity":{"condition":{"test":"utcmonth(datum.value)==8","value":0},"value":1}}},
  "y":{"field":"lo","type":"quantitative","title":null,
   "scale":{"domain":[20,67.66],"nice":false,"zero":false},
   "axis":{"values":[20,30,40,50,60],"domain":false,"ticks":false,"grid":true,"gridColor":"#ebebeb","labelFontSize":10,"labelPadding":4,
    "labelColor":{"condition":{"test":"datum.value==50","value":"#333333"},"value":"#9a9a9a"}}},
  "y2":{"field":"hi"},
  "color":{"field":"s","type":"nominal","scale":{"domain":["a","o"],"range":["#009f29","#ff7400"]},"legend":null}
 }},
{"data":{"name":"dots"},
 "mark":{"type":"circle","size":30,"opacity":0.24},
 "encoding":{
  "x":{"field":"d","type":"temporal","title":null},
  "y":{"field":"v","type":"quantitative","title":null},
  "color":{"field":"s","type":"nominal","legend":null}
 }},
{"data":{"values":[{}]},
 "mark":{"type":"rule","color":"#333333","strokeWidth":1},
 "encoding":{"y":{"datum":50,"type":"quantitative"}}},
{"data":{"name":"lines"},
 "mark":{"type":"line","strokeWidth":3,"strokeJoin":"round"},
 "encoding":{
  "x":{"field":"d","type":"temporal","title":null},
  "y":{"field":"v","type":"quantitative","title":null},
  "color":{"field":"s","type":"nominal","legend":null}
 }},
{"data":{"values":[{}]},
 "mark":{"type":"rule","color":"#555555","strokeWidth":1,"strokeDash":[2,2]},
 "encoding":{"x":{"datum":{"year":2021,"month":9,"date":10,"utc":true},"type":"temporal"}}},
{"data":{"name":"labels"},
 "transform":[{"filter":"datum.s=='o'"}],
 "layer":[
  {"mark":{"type":"text","align":"left","baseline":"middle","dx":4,"dy":-14,"fontSize":26,"fontWeight":"bold","font":"Liberation Sans","color":"#ff7400"},
   "encoding":{"x":{"field":"d","type":"temporal"},"y":{"field":"v","type":"quantitative"},"text":{"field":"t"}}},
  {"mark":{"type":"text","align":"left","baseline":"middle","dx":57,"dy":-17,"fontSize":12,"font":"Liberation Sans","color":"#ff7400"},
   "encoding":{"x":{"field":"d","type":"temporal"},"y":{"field":"v","type":"quantitative"},"text":{"value":"%"}}}
 ]},
{"data":{"name":"labels"},
 "transform":[{"filter":"datum.s=='a'"}],
 "layer":[
  {"mark":{"type":"text","align":"left","baseline":"middle","dx":4,"dy":6,"fontSize":26,"fontWeight":"bold","font":"Liberation Sans","color":"#009f29"},
   "encoding":{"x":{"field":"d","type":"temporal"},"y":{"field":"v","type":"quantitative"},"text":{"field":"t"}}},
  {"mark":{"type":"text","align":"left","baseline":"middle","dx":57,"dy":2,"fontSize":12,"font":"Liberation Sans","color":"#009f29"},
   "encoding":{"x":{"field":"d","type":"temporal"},"y":{"field":"v","type":"quantitative"},"text":{"value":"%"}}}
 ]}
]
}
